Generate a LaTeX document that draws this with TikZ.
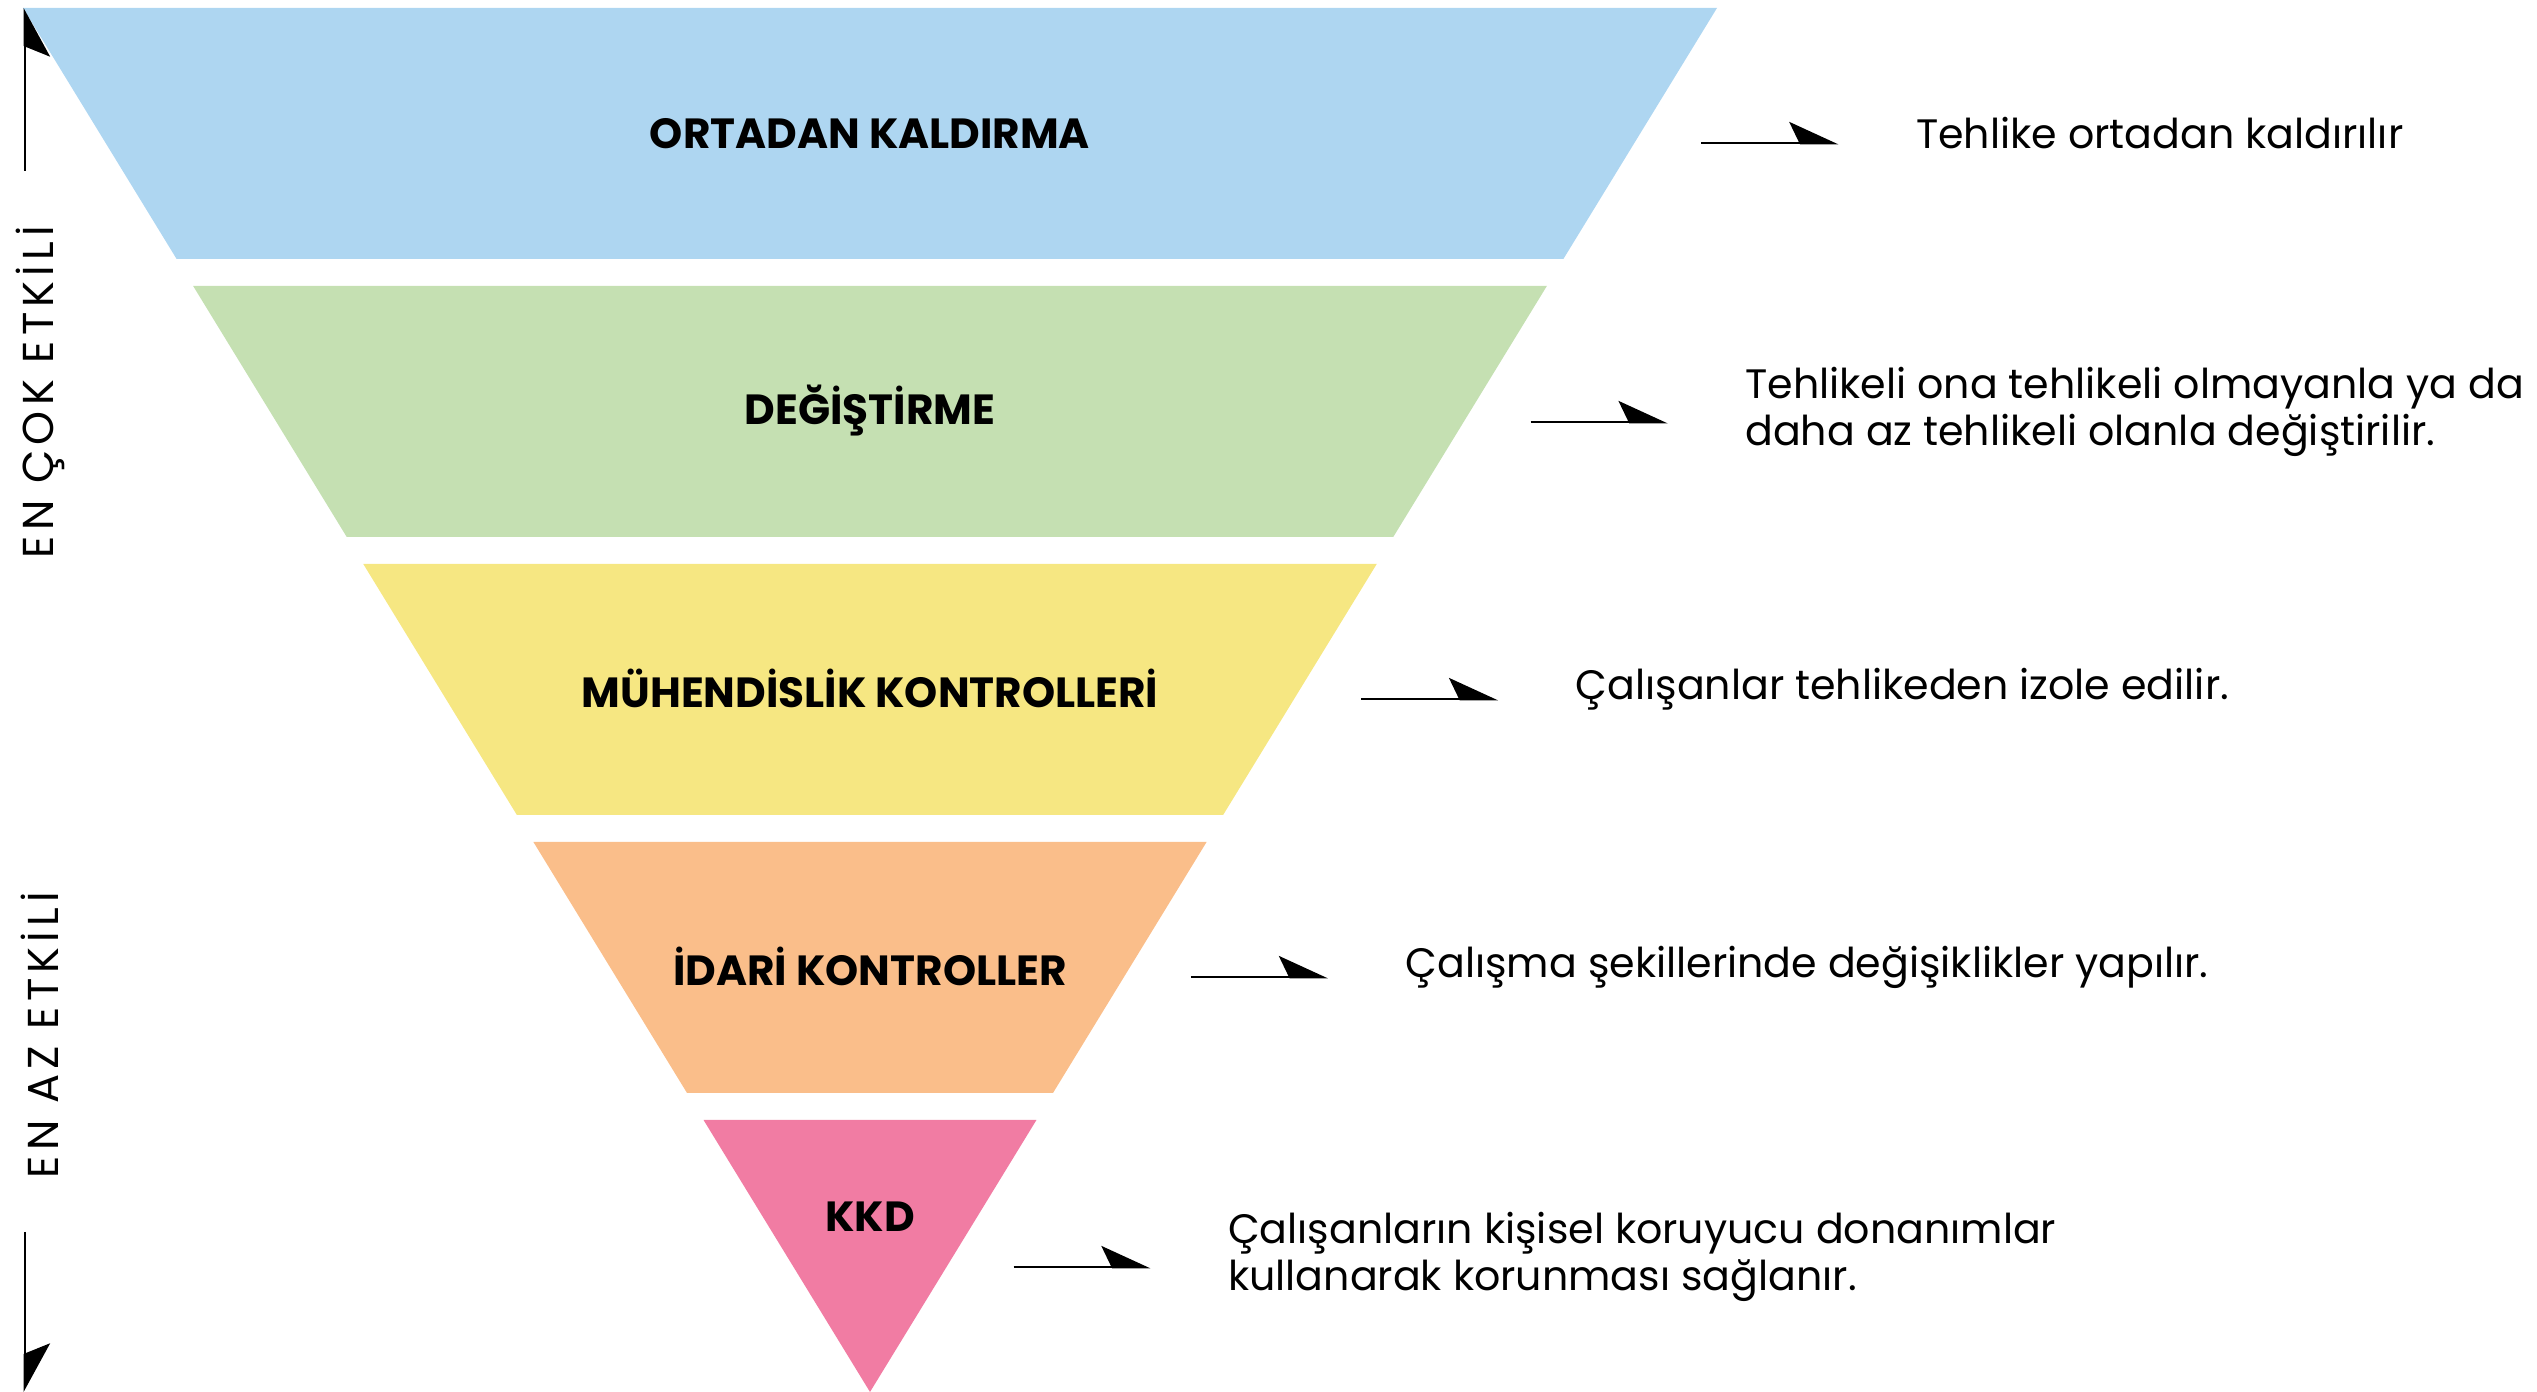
\documentclass[tikz,border=0pt]{standalone}
\usepackage{fontspec}
\setmainfont{Poppins}
\usetikzlibrary{arrows.meta, positioning}
\definecolor{layer-blue}{HTML}{AED6F1}
\definecolor{layer-green}{HTML}{C5E0B2}
\definecolor{layer-yellow}{HTML}{F6E782}
\definecolor{layer-orange}{HTML}{FABE8A}
\definecolor{layer-pink}{HTML}{F17CA3}

\begin{document}
\begin{tikzpicture}[every node/.style={inner sep=0pt},
      halfarrow/.style={-{Stealth[harpoon, length=0.46cm, width=0.42cm, inset=0.1cm]},
        line width=0.8pt},
      sidearrow/.style={-{Stealth[harpoon, #1, length=0.46cm, width=0.5cm, inset=0.1cm]},
        line width=0.8pt},
      layerlabel/.style={font=\fontsize{12}{15}\selectfont\bfseries},
      note/.style={align=left, font=\fontsize{11.7}{13.6}\selectfont},
      sidelabel/.style={rotate=90, font=\fontsize{12.3}{14}\selectfont\addfontfeature{LetterSpace=12}}]
    \useasboundingbox (0,0) rectangle (25.37,13.92);
    \foreach \i/\col/\lab/\ylab/\yarr/\txt in {
        0/layer-blue/{ORTADAN KALDIRMA}/12.58/12.49/{Tehlike ortadan kaldırılır},
        1/layer-green/{DEĞİŞTİRME}/9.81/9.70/{Tehlikeli ona tehlikeli olmayanla ya da\\daha az tehlikeli olanla değiştirilir.},
        2/layer-yellow/{MÜHENDİSLİK KONTROLLERİ}/7.04/6.93/{Çalışanlar tehlikeden izole edilir.},
        3/layer-orange/{İDARİ KONTROLLER}/4.26/4.15/{Çalışma şekillerinde değişiklikler yapılır.},
        4/layer-pink/{KKD}/1.75/1.25/{Çalışanların kişisel koruyucu donanımlar\\kullanarak korunması sağlanır.}} {
      \pgfmathsetmacro\ytop{13.84-2.78*\i}
      \ifnum\i=4
        \def\ybot{0}
      \else
        \pgfmathsetmacro\ybot{\ytop-2.51}
      \fi
      \fill[\col] (8.70-0.612*\ytop,\ytop) -- (8.70+0.612*\ytop,\ytop)
        -- (8.70+0.612*\ybot,\ybot) -- (8.70-0.612*\ybot,\ybot) -- cycle;
      \node[layerlabel] (lab-\i) at (8.70,\ylab) {\lab};
      \coordinate (arr-s-\i) at (9.37+0.612*\yarr,\yarr);
      \coordinate[right=1.37cm of arr-s-\i] (arr-e-\i);
      \draw[halfarrow] (arr-s-\i) -- (arr-e-\i);
      \node[note, right=0.77cm of arr-e-\i, yshift=1mm] (note-\i) {\txt};
    }
    \node[sidelabel] (most) at (0.40,10.00) {EN ÇOK ETKİLİ};
    \node[sidelabel] (least) at (0.40,3.57) {EN AZ ETKİLİ};
    \coordinate (most-tail) at (0.25,12.21);
    \coordinate (most-tip) at (0.25,13.84);
    \coordinate (least-tail) at (0.25,1.60);
    \coordinate (least-tip) at (0.25,0);
    \draw[sidearrow=swap] (most-tail) -- (most-tip);
    \draw[sidearrow=] (least-tail) -- (least-tip);
  \end{tikzpicture}
\end{document}
